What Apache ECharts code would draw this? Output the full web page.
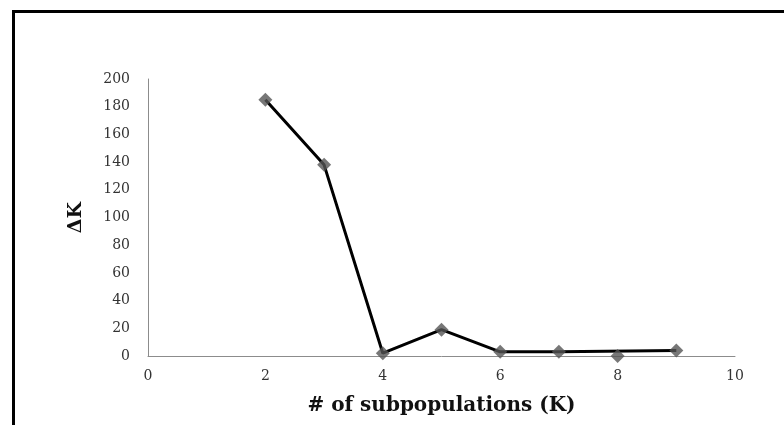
<!DOCTYPE html>
<html>
<head>
<meta charset="utf-8">
<script src="https://cdn.jsdelivr.net/npm/echarts@6/dist/echarts.min.js"></script>
<style>
html,body{margin:0;padding:0;background:#fff;}
#c{width:784px;height:425px;}
</style>
</head>
<body>
<div id="c"></div>
<script>
// Data
var kValues = [2, 3, 4, 5, 6, 7, 8, 9];
var deltaK = [185, 138, 2, 19, 3, 3, 0, 4];
// line path as drawn in the reference (it passes over K=8 without touching the marker)
var lineK = [2, 3, 4, 5, 6, 7, 9];
var lineDeltaK = [185, 138, 2, 19, 3, 3, 4];
var xTicks = [0, 2, 4, 6, 8, 10];
var yTicks = [0, 20, 40, 60, 80, 100, 120, 140, 160, 180, 200];

var chart = echarts.init(document.getElementById('c'), null, {renderer: 'canvas'});
var font = 'DejaVu Serif, serif';
chart.setOption({
  animation: false,
  backgroundColor: '#fff',
  graphic: [{
    type: 'rect',
    shape: {x: 13.5, y: 11.5, width: 900, height: 600},
    style: {fill: 'none', stroke: '#000', lineWidth: 3},
    silent: true
  }],
  grid: {left: 148, right: 49, top: 79, bottom: 69, containLabel: false},
  xAxis: {
    type: 'value', min: xTicks[0], max: xTicks[xTicks.length - 1], interval: 2,
    name: '# of subpopulations (K)', nameLocation: 'middle', nameGap: 40,
    nameTextStyle: {fontFamily: font, fontWeight: 'bold', fontSize: 20, color: '#111'},
    axisLine: {lineStyle: {color: '#8c8c8c', width: 1}},
    axisTick: {show: false},
    splitLine: {show: false},
    axisLabel: {fontFamily: font, fontSize: 14, color: '#333', margin: 13}
  },
  yAxis: {
    type: 'value', min: yTicks[0], max: yTicks[yTicks.length - 1], interval: 20,
    name: 'ΔK', nameLocation: 'middle', nameGap: 62, nameRotate: 90,
    nameTextStyle: {fontFamily: font, fontWeight: 'bold', fontSize: 19, color: '#111'},
    axisLine: {show: true, lineStyle: {color: '#8c8c8c', width: 1}},
    axisTick: {show: false},
    splitLine: {show: false},
    axisLabel: {fontFamily: font, fontSize: 14, color: '#333', margin: 18}
  },
  series: [{
    type: 'line',
    data: lineK.map(function (k, i) { return [k, lineDeltaK[i]]; }),
    showSymbol: false,
    lineStyle: {color: '#000', width: 3},
    z: 2
  }, {
    type: 'scatter',
    data: kValues.map(function (k, i) { return [k, deltaK[i]]; }),
    symbol: 'diamond',
    symbolSize: 14,
    itemStyle: {color: '#555555'},
    z: 3
  }]
});
</script>
</body>
</html>
